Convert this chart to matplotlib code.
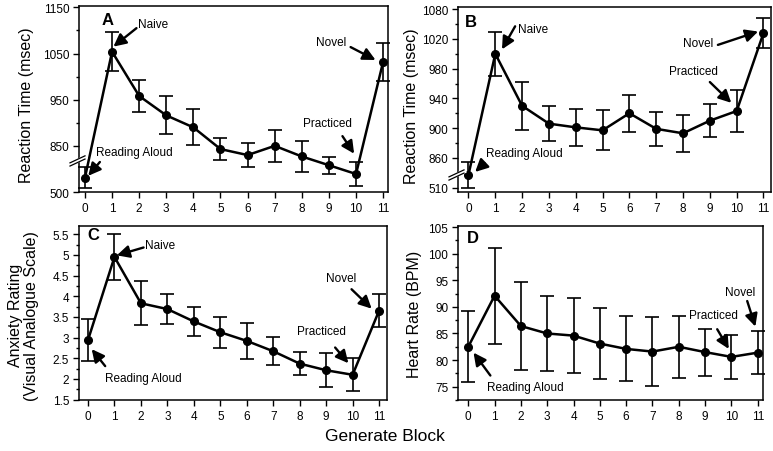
import numpy as np
import matplotlib
matplotlib.use('Agg')
import matplotlib.pyplot as plt
from matplotlib.ticker import FixedLocator, MultipleLocator, FuncFormatter

plt.rcParams['font.family'] = ['Liberation Sans', 'DejaVu Sans']

# Data
blocks = list(range(12))

rt_words_mean = [531, 1054, 958, 916, 890, 843, 830, 850, 827, 808, 789, 1032]
rt_words_err = [23, 42, 34, 41, 39, 24, 26, 35, 33, 18, 26, 41]

rt_b_mean = [527, 1000, 930, 906, 901, 897, 920, 899, 893, 910, 923, 1028]
rt_b_err = [18, 30, 32, 24, 25, 27, 25, 23, 25, 22, 28, 20]

anxiety_mean = [2.94, 4.95, 3.83, 3.69, 3.39, 3.13, 2.92, 2.67, 2.37, 2.21, 2.10, 3.65]
anxiety_err = [0.50, 0.55, 0.53, 0.37, 0.36, 0.37, 0.43, 0.34, 0.28, 0.41, 0.40, 0.40]

hr_mean = [82.5, 92.1, 86.4, 85.0, 84.6, 83.1, 82.1, 81.6, 82.5, 81.5, 80.6, 81.4]
hr_err = [6.7, 9.0, 8.2, 7.0, 7.1, 6.6, 6.1, 6.5, 5.8, 4.4, 4.2, 4.1]

# broken y axes: values under the break are drawn shifted up
a_ticks = [500, 850, 950, 1050, 1150]
a_tick_labels = ['500', '850', '950', '1050', '1150']
a_shift = 250
b_ticks = [510, 860, 900, 940, 980, 1020, 1060]
b_tick_labels = ['510', '860', '900', '940', '980', '1020', '1080']
b_shift = 310


def shifted(values, shift):
    return [v + shift if v < 600 else v for v in values]


W, H = 773, 452
fig = plt.figure(figsize=(W / 100, H / 100), dpi=100)


def add_axes(l, r, t, b):
    return fig.add_axes([l / W, 1 - b / H, (r - l) / W, (b - t) / H])


axA = add_axes(79, 388, 7, 193)
axB = add_axes(458, 771, 8, 193)
axC = add_axes(79, 387, 227, 401)
axD = add_axes(458, 763, 227, 401)


def draw(ax, y, err):
    ax.errorbar(blocks, y, yerr=err, fmt='-o', color='black', lw=1.8, ms=5.5,
                capsize=5, elinewidth=1.2, capthick=1.2, clip_on=False, zorder=3)
    ax.set_xticks(blocks)
    ax.tick_params(axis='both', labelsize=8.5, width=1, length=4, direction='out', pad=3)
    ax.tick_params(axis='y', which='minor', width=1, length=2.5)
    for s in ax.spines.values():
        s.set_linewidth(1.1)


def arrow(ax, tail, tip):
    ax.annotate('', xy=tip, xytext=tail,
                arrowprops=dict(arrowstyle='-|>,head_length=0.5,head_width=0.25',
                                color='black', lw=1.7, mutation_scale=15,
                                shrinkA=0, shrinkB=0))


def label(ax, text, xy):
    ax.text(xy[0], xy[1], text, fontsize=8.5, ha='center', va='center')


def break_marks(ax, frac, w_px, h_px):
    xs = np.array([-9, 6]) / w_px
    ys = np.array([-3.5, 3.5]) / h_px
    ax.plot(xs, frac + ys, color='white', lw=3, transform=ax.transAxes, clip_on=False, zorder=5)
    for k in (-1.6, 1.6):
        ax.plot(xs, frac + ys + k / h_px, color='black', lw=0.9,
                transform=ax.transAxes, clip_on=False, zorder=6)


# Panel A
draw(axA, shifted(rt_words_mean, a_shift), rt_words_err)
axA.set_xlim(-0.22, 11.18)
axA.set_ylim(750, 1153)
axA.yaxis.set_major_locator(FixedLocator(shifted(a_ticks, a_shift)))
axA.set_yticklabels(a_tick_labels)
axA.yaxis.set_minor_locator(FixedLocator([900, 1000, 1100]))
axA.set_ylabel('Reaction Time (msec)', fontsize=11.5)
axA.yaxis.set_label_coords(-0.146, 0.47)
axA.text(0.094, 0.925, 'A', transform=axA.transAxes, fontsize=12, fontweight='bold',
         ha='center', va='center')
label(axA, 'Naive', (2.53, 1114)); arrow(axA, (1.9, 1105), (1.05, 1065))
label(axA, 'Reading Aloud', (1.83, 836)); arrow(axA, (0.55, 815), (0.12, 785))
label(axA, 'Novel', (9.1, 1075)); arrow(axA, (9.8, 1064), (10.72, 1036))
label(axA, 'Practiced', (8.93, 899)); arrow(axA, (9.5, 871), (9.93, 833))
break_marks(axA, 0.167, 309, 186)

# Panel B
draw(axB, shifted(rt_b_mean, b_shift), rt_b_err)
axB.set_xlim(-0.39, 11.28)
axB.set_ylim(814, 1063)
axB.yaxis.set_major_locator(FixedLocator(shifted(b_ticks, b_shift)))
axB.set_yticklabels(b_tick_labels)
axB.yaxis.set_minor_locator(FixedLocator([880, 920, 960, 1000, 1040]))
axB.set_ylabel('Reaction Time (msec)', fontsize=11.5)
axB.yaxis.set_label_coords(-0.126, 0.47)
axB.text(0.04, 0.924, 'B', transform=axB.transAxes, fontsize=12, fontweight='bold',
         ha='center', va='center')
label(axB, 'Naive', (2.42, 1033)); arrow(axB, (1.74, 1037), (1.25, 1006))
label(axB, 'Reading Aloud', (2.1, 866)); arrow(axB, (0.6, 853), (0.25, 841))
label(axB, 'Novel', (8.55, 1014)); arrow(axB, (9.3, 1012), (10.8, 1030))
label(axB, 'Practiced', (8.4, 976.6)); arrow(axB, (9.0, 962), (9.8, 934))
break_marks(axB, 0.092, 313, 185)

# Panel C
draw(axC, anxiety_mean, anxiety_err)
axC.set_xlim(-0.34, 11.3)
axC.set_ylim(1.49, 5.7)
axC.yaxis.set_major_locator(MultipleLocator(0.5))
axC.yaxis.set_minor_locator(MultipleLocator(0.25))
axC.yaxis.set_major_formatter(FuncFormatter(lambda v, p: '%g' % v))
axC.set_ylabel('Anxiety Rating\n(Visual Analogue Scale)', fontsize=11.5, linespacing=1.05)
axC.yaxis.set_label_coords(-0.13, 0.49)
axC.text(0.045, 0.95, 'C', transform=axC.transAxes, fontsize=12, fontweight='bold',
         ha='center', va='center')
label(axC, 'Naive', (2.74, 5.23)); arrow(axC, (2.1, 5.18), (1.09, 4.99))
label(axC, 'Reading Aloud', (2.1, 2.03)); arrow(axC, (0.65, 2.31), (0.14, 2.72))
label(axC, 'Novel', (9.58, 4.45)); arrow(axC, (9.96, 4.17), (10.72, 3.7))
label(axC, 'Practiced', (8.82, 3.16)); arrow(axC, (9.34, 2.76), (9.84, 2.38))

# Panel D
draw(axD, hr_mean, hr_err)
axD.set_xlim(-0.39, 11.2)
axD.set_ylim(72.5, 105.2)
axD.yaxis.set_major_locator(MultipleLocator(5))
axD.yaxis.set_minor_locator(MultipleLocator(2.5))
axD.set_ylabel('Heart Rate (BPM)', fontsize=11.5)
axD.yaxis.set_label_coords(-0.118, 0.5)
axD.text(0.05, 0.935, 'D', transform=axD.transAxes, fontsize=12, fontweight='bold',
         ha='center', va='center')
label(axD, 'Reading Aloud', (2.17, 74.9)); arrow(axD, (0.84, 77.1), (0.2, 81.4))
label(axD, 'Novel', (10.34, 92.8)); arrow(axD, (10.6, 91.1), (10.91, 86.3))
label(axD, 'Practiced', (9.33, 88.4)); arrow(axD, (9.46, 85.8), (9.9, 82.1))

fig.text(385 / W, 1 - 437 / H, 'Generate Block', fontsize=12.5, ha='center', va='center')

fig.savefig('out.png', dpi=100)
plt.close(fig)
